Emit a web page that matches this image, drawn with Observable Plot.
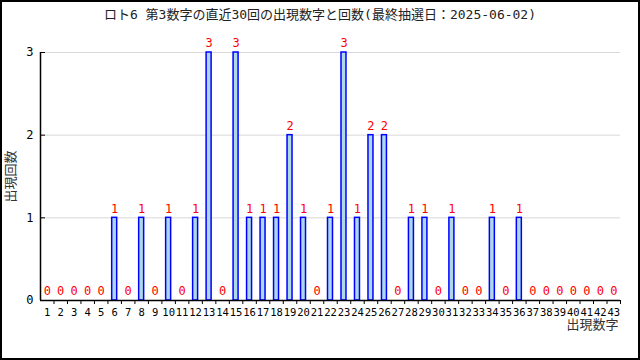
<!DOCTYPE html>
<html><head><meta charset="utf-8">
<script src="https://cdn.jsdelivr.net/npm/d3@7"></script>
<script src="https://cdn.jsdelivr.net/npm/@observablehq/plot@0.6"></script>
<style>
html,body{margin:0;padding:0;background:#fff;}
#wrap{position:relative;width:640px;height:360px;overflow:hidden;font-family:"DejaVu Sans Mono","Noto Sans CJK JP",monospace;}
#title{height:30px;line-height:30px;text-align:center;font-size:13px;color:#222;}
#border{position:absolute;left:0;top:0;width:640px;height:360px;box-sizing:border-box;border:2px solid #000;pointer-events:none;}
svg{display:block;}
</style></head>
<body>
<div id="wrap"><div id="title">ロト6 第3数字の直近30回の出現数字と回数(最終抽選日：2025-06-02)</div><div id="chart"></div><div id="border"></div></div>
<script>
const numbers = d3.range(1, 44);
const counts = [0,0,0,0,0,1,0,1,0,1,0,1,3,0,3,1,1,1,2,1,0,1,3,1,2,2,0,1,1,0,1,0,0,1,0,1,0,0,0,0,0,0,0];
const yTicks = [0,1,2,3];
const xLabel = "出現数字";
const yLabel = "出現回数";

const data = numbers.map((n, i) => ({n, v: counts[i]}));
const W = 640, H = 330, mL = 40, mR = 20, mT = 22, mB = 60;
const step = (W - mL - mR) / numbers.length;
const font = "DejaVu Sans Mono, Noto Sans CJK JP, monospace";

const chart = Plot.plot({
  width: W, height: H,
  marginLeft: mL, marginRight: mR, marginTop: mT, marginBottom: mB,
  style: {fontFamily: font, background: "#fff", color: "#000"},
  x: {type: "band", domain: numbers, paddingInner: 0.63, paddingOuter: 0.315, round: false, range: [mL, W - mR]},
  y: {domain: [0, 3], range: [H - mB, mT]},
  marks: [
    Plot.ruleY([1, 2, 3], {stroke: "#d8d8d8", strokeWidth: 1}),
    Plot.barY(data, {x: "n", y: "v", fill: "#add8e6", stroke: "#0000ff", strokeWidth: 1.5}),
    Plot.text(data, {x: "n", y: "v", text: d => String(d.v), fill: "#ff0000", dy: -9, fontSize: 12}),
    Plot.ruleY([0], {stroke: "#000", strokeWidth: 1.5}),
    Plot.ruleX([numbers[0]], {y1: 0, y2: 3, dx: -step / 2, stroke: "#000", strokeWidth: 1.5}),
    Plot.axisX({tickSize: 4, dx: step / 2, tickFormat: () => "", label: null, stroke: "#000"}),
    Plot.axisX({tickSize: 0, tickPadding: 8, fontSize: 10.5, label: null}),
    Plot.axisY({ticks: [1, 2, 3], tickSize: 5, dx: 5, tickFormat: () => "", label: null, stroke: "#000"}),
    Plot.axisY({ticks: yTicks, tickFormat: d3.format("d"), tickSize: 0, tickPadding: 7, fontSize: 12, label: null}),
    Plot.text([xLabel], {frameAnchor: "bottom-right", textAnchor: "end", dx: -2, dy: 28, fontSize: 13, fill: "#333"}),
    Plot.text([yLabel], {frameAnchor: "left", textAnchor: "middle", rotate: -90, dx: -30, fontSize: 13, fill: "#333"})
  ]
});
document.getElementById("chart").appendChild(chart);
</script>
</body></html>
